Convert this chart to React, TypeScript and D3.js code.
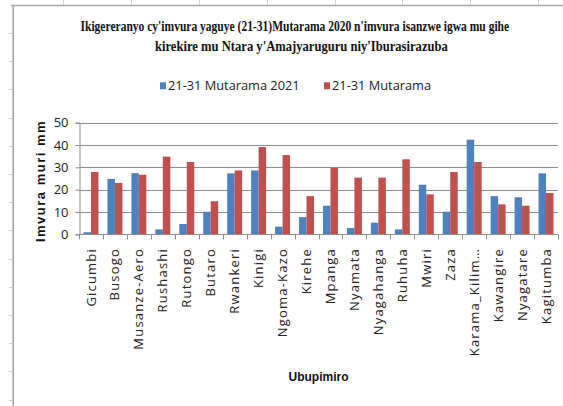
import * as d3 from "d3";
import { useEffect, useRef } from "react";

const stations = [
  "Gicumbi",
  "Busogo",
  "Musanze-Aero",
  "Rushashi",
  "Rutongo",
  "Butaro",
  "Rwankeri",
  "Kinigi",
  "Ngoma-Kazo",
  "Kirehe",
  "Mpanga",
  "Nyamata",
  "Nyagahanga",
  "Ruhuha",
  "Mwiri",
  "Zaza",
  "Karama_Kilim…",
  "Kawangire",
  "Nyagatare",
  "Kagitumba",
];

// 21-31 Mutarama 2021
const rain2021 = [
  0.9, 24.8, 27.4, 2.2, 4.6, 10.1, 27.3, 28.6, 3.4, 7.7, 12.8, 2.8, 5.2, 2.2,
  22.2, 10.1, 42.4, 17.1, 16.6, 27.3,
];

// 21-31 Mutarama (normal)
const rainNormal = [
  27.9, 23.0, 26.7, 34.8, 32.4, 14.8, 28.6, 39.1, 35.5, 17.1, 29.8, 25.4, 25.4,
  33.6, 17.9, 27.9, 32.4, 13.4, 12.8, 18.5,
];

const seriesNames = ["21-31 Mutarama 2021", "21-31 Mutarama"];
const yTicks = [0, 10, 20, 30, 40, 50];

const titleLines = [
  "Ikigereranyo cy'imvura yaguye (21-31)Mutarama 2020 n'imvura isanzwe igwa mu gihe",
  "kirekire mu Ntara y'Amajyaruguru niy'Iburasirazuba",
];

const BLUE = "#4F81BD";
const RED = "#C0504D";

const App = () => {
  const ref = useRef<SVGSVGElement | null>(null);

  useEffect(() => {
    document.body.style.margin = "0";
    const width = 563;
    const height = 406;
    const svg = d3.select(ref.current);
    svg.selectAll("*").remove();
    svg.attr("width", width).attr("height", height);

    svg.append("rect").attr("width", width).attr("height", height).attr("fill", "#fff");

    // sheet frame behind the chart
    const frame = svg.append("g").attr("stroke", "#a8a8a8");
    frame.append("line").attr("x1", 11).attr("x2", width).attr("y1", 5.5).attr("y2", 5.5).attr("stroke-width", 1.6);
    frame.append("line").attr("x1", 13.2).attr("x2", 13.2).attr("y1", 5.5).attr("y2", height).attr("stroke-width", 1.6);
    d3.range(63.3, width, 67.8).forEach((x) => {
      frame
        .append("line")
        .attr("x1", Math.round(x) + 0.5)
        .attr("x2", Math.round(x) + 0.5)
        .attr("y1", 0)
        .attr("y2", 5)
        .attr("stroke", "#d0d0d0");
    });
    d3.range(33, height, 28.2).forEach((y) => {
      frame
        .append("line")
        .attr("x1", 9)
        .attr("x2", 12)
        .attr("y1", Math.round(y) + 0.5)
        .attr("y2", Math.round(y) + 0.5)
        .attr("stroke", "#d0d0d0");
    });

    const left = 79;
    const right = 558;
    const top = 122.7;
    const bottom = 234.3;

    const x = d3.scaleBand().domain(stations).range([left, right]).padding(0);
    const xs = d3
      .scaleBand()
      .domain(seriesNames)
      .range([0, x.bandwidth()])
      .paddingInner(0)
      .paddingOuter(0.6);
    const y = d3.scaleLinear().domain([0, 50]).range([bottom, top]);

    // gridlines
    svg
      .append("g")
      .selectAll("line")
      .data(yTicks.filter((t) => t > 0))
      .enter()
      .append("line")
      .attr("x1", left)
      .attr("x2", right)
      .attr("y1", (d) => Math.round(y(d)) + 0.5)
      .attr("y2", (d) => Math.round(y(d)) + 0.5)
      .attr("stroke", "#8c8c8c")
      .attr("stroke-width", 1);

    // bars
    const data = stations.map((s, i) => ({ s, vals: [rain2021[i], rainNormal[i]] }));
    const groups = svg
      .append("g")
      .selectAll("g")
      .data(data)
      .enter()
      .append("g")
      .attr("transform", (d) => `translate(${x(d.s)},0)`);
    groups
      .selectAll("rect")
      .data((d) => d.vals.map((v, k) => ({ v, k })))
      .enter()
      .append("rect")
      .attr("x", (d) => xs(seriesNames[d.k]) || 0)
      .attr("width", xs.bandwidth())
      .attr("y", (d) => y(d.v))
      .attr("height", (d) => bottom - y(d.v))
      .attr("fill", (d) => (d.k === 0 ? BLUE : RED));

    // y axis
    const yAxis = svg
      .append("g")
      .attr("transform", `translate(${left + 0.5},0)`)
      .call(d3.axisLeft(y).tickValues(yTicks).tickSize(4).tickPadding(7).tickFormat(d3.format("d")));
    yAxis.select(".domain").attr("stroke", "#8c8c8c");
    yAxis.selectAll(".tick line").attr("stroke", "#8c8c8c");
    yAxis
      .selectAll("text")
      .style("font-size", "13px")
      .style("font-family", "'Open Sans', sans-serif")
      .style("fill", "#222");

    // x axis
    const xAxisG = svg.append("g");
    xAxisG
      .append("line")
      .attr("x1", left)
      .attr("x2", right)
      .attr("y1", Math.round(bottom) + 0.5)
      .attr("y2", Math.round(bottom) + 0.5)
      .attr("stroke", "#8c8c8c");
    xAxisG
      .selectAll("line.tk")
      .data([...stations.map((s) => x(s) || 0), right])
      .enter()
      .append("line")
      .attr("class", "tk")
      .attr("x1", (d) => Math.round(d) + 0.5)
      .attr("x2", (d) => Math.round(d) + 0.5)
      .attr("y1", bottom)
      .attr("y2", bottom + 5)
      .attr("stroke", "#8c8c8c");
    xAxisG
      .selectAll("text")
      .data(stations)
      .enter()
      .append("text")
      .attr("transform", (d) => `translate(${(x(d) || 0) + x.bandwidth() / 2},248) rotate(-90)`)
      .attr("dy", "0.35em")
      .style("text-anchor", "end")
      .style("font-size", "13px")
      .style("letter-spacing", "1.2px")
      .style("font-family", "'Open Sans', sans-serif")
      .style("fill", "#222")
      .text((d) => d);

    // axis titles
    svg
      .append("text")
      .attr("transform", "translate(44.5,181) rotate(-90)")
      .style("text-anchor", "middle")
      .style("font-size", "13px")
      .style("font-weight", "bold")
      .style("letter-spacing", "1.5px")
      .style("font-family", "'Liberation Sans', Arial, sans-serif")
      .style("fill", "#111")
      .text("Imvura muri mm");

    svg
      .append("text")
      .attr("x", (left + right) / 2)
      .attr("y", 381)
      .style("text-anchor", "middle")
      .style("font-size", "12px")
      .style("font-weight", "bold")
      .style("font-family", "'Liberation Sans', Arial, sans-serif")
      .style("fill", "#111")
      .text("Ubupimiro");

    // title: condensed serif, squeezed horizontally to the reference width
    const titlePos = [
      { x: 80.5, y: 31, len: 429 },
      { x: 155, y: 50.5, len: 293 },
    ];
    titleLines.forEach((t, i) => {
      const txt = svg
        .append("text")
        .style("font-size", "14.5px")
        .style("font-weight", "bold")
        .style("font-family", "'Liberation Serif', 'Times New Roman', serif")
        .style("fill", "#111")
        .text(t);
      const node = txt.node() as SVGTextElement;
      const w = node.getComputedTextLength() || titlePos[i].len;
      txt.attr(
        "transform",
        `translate(${titlePos[i].x},${titlePos[i].y}) scale(${titlePos[i].len / w},1)`
      );
    });

    // legend
    const legendX = [160, 324];
    seriesNames.forEach((name, i) => {
      svg
        .append("rect")
        .attr("x", legendX[i])
        .attr("y", 82.3)
        .attr("width", 6)
        .attr("height", 7)
        .attr("fill", i === 0 ? BLUE : RED);
      svg
        .append("text")
        .attr("x", legendX[i] + 8)
        .attr("y", 90)
        .style("font-size", "12.8px")
        .style("font-family", "'Open Sans', sans-serif")
        .style("fill", "#222")
        .text(name);
    });
  }, []);

  return <svg ref={ref}></svg>;
};

export default App;
